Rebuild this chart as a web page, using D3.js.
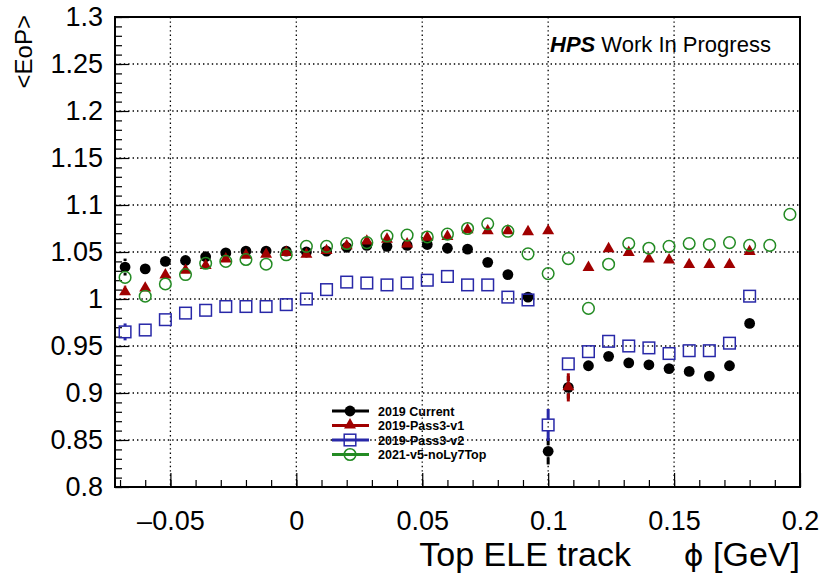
<!DOCTYPE html>
<html>
<head>
<meta charset="utf-8">
<script src="https://cdn.jsdelivr.net/npm/d3@7"></script>
<style>
  body { margin: 0; background: #fff; }
  svg { display: block; font-family: "Liberation Sans", Arial, Helvetica, sans-serif; }
</style>
</head>
<body>
<div id="chart"></div>
<script>
// bin centres in phi
var phiBins = [-0.068, -0.060, -0.052, -0.044, -0.036, -0.028, -0.020, -0.012, -0.004, 0.004,
               0.012, 0.020, 0.028, 0.036, 0.044, 0.052, 0.060, 0.068, 0.076, 0.084,
               0.092, 0.100, 0.108, 0.116, 0.124, 0.132, 0.140, 0.148, 0.156, 0.164,
               0.172, 0.180, 0.188, 0.196];

var seriesNames = ["2019 Current", "2019-Pass3-v1", "2019-Pass3-v2", "2021-v5-noLy7Top"];

var current2019 = [1.034, 1.032, 1.040, 1.041, 1.045, 1.049, 1.051, 1.051, 1.051, 1.050,
                   1.051, 1.055, 1.057, 1.056, 1.057, 1.058, 1.054, 1.053, 1.039, 1.026,
                   1.002, 0.838, 0.906, 0.929, 0.939, 0.932, 0.930, 0.926, 0.923, 0.918,
                   0.929, 0.974, null, null];
var current2019Err = [0.009, 0.003, 0.003, 0.003, 0.003, 0.003, 0.003, 0.003, 0.003, 0.003,
                      0.003, 0.003, 0.003, 0.003, 0.003, 0.003, 0.003, 0.003, 0.003, 0.003,
                      0.004, 0.014, 0.012, 0.003, 0.003, 0.003, 0.003, 0.003, 0.003, 0.003,
                      0.003, 0.003, null, null];

var pass3v1 = [1.007, 1.011, 1.025, 1.030, 1.035, 1.042, 1.046, 1.047, 1.049, 1.047,
               1.051, 1.056, 1.061, 1.063, 1.058, 1.065, 1.066, 1.073, 1.072, 1.072,
               1.071, 1.072, 0.906, 1.033, 1.053, 1.049, 1.042, 1.041, 1.036, 1.036,
               1.036, 1.050, null, null];
var pass3v1Err = [0.007, 0.004, 0.003, 0.003, 0.003, 0.003, 0.003, 0.003, 0.003, 0.003,
                  0.003, 0.003, 0.003, 0.003, 0.003, 0.003, 0.003, 0.003, 0.003, 0.003,
                  0.003, 0.003, 0.015, 0.003, 0.003, 0.003, 0.003, 0.003, 0.003, 0.003,
                  0.003, 0.003, null, null];

var pass3v2 = [0.965, 0.967, 0.978, 0.985, 0.988, 0.992, 0.992, 0.992, 0.994, 1.000,
               1.010, 1.018, 1.017, 1.015, 1.017, 1.020, 1.024, 1.015, 1.015, 1.002,
               0.999, 0.866, 0.931, 0.944, 0.955, 0.950, 0.948, 0.942, 0.945, 0.945,
               0.953, 1.003, null, null];
var pass3v2Err = [0.009, 0.003, 0.003, 0.003, 0.003, 0.003, 0.003, 0.003, 0.003, 0.003,
                  0.003, 0.003, 0.003, 0.003, 0.003, 0.003, 0.003, 0.003, 0.003, 0.003,
                  0.003, 0.017, 0.004, 0.003, 0.003, 0.003, 0.003, 0.003, 0.003, 0.003,
                  0.003, 0.003, null, null];

var noLy7Top2021 = [1.023, 1.003, 1.016, 1.026, 1.038, 1.040, 1.042, 1.037, 1.047, 1.056,
                    1.056, 1.059, 1.060, 1.067, 1.068, 1.066, 1.069, 1.075, 1.080, 1.072,
                    1.048, 1.027, 1.043, 0.990, 1.037, 1.059, 1.054, 1.056, 1.059, 1.058,
                    1.060, 1.057, 1.057, 1.090];
var noLy7Top2021Err = [0.006, 0.005, 0.003, 0.003, 0.003, 0.003, 0.003, 0.003, 0.003, 0.003,
                       0.003, 0.003, 0.003, 0.003, 0.003, 0.003, 0.003, 0.003, 0.003, 0.003,
                       0.003, 0.004, 0.003, 0.003, 0.003, 0.003, 0.003, 0.003, 0.003, 0.003,
                       0.003, 0.003, 0.003, 0.003];

var xTickValues = [-0.05, 0, 0.05, 0.1, 0.15, 0.2];
var xTickLabels = ["\u20130.05", "0", "0.05", "0.1", "0.15", "0.2"];
var yTickValues = [0.8, 0.85, 0.9, 0.95, 1, 1.05, 1.1, 1.15, 1.2, 1.25, 1.3];
var yTickLabels = ["0.8", "0.85", "0.9", "0.95", "1", "1.05", "1.1", "1.15", "1.2", "1.25", "1.3"];

// page and frame geometry
var width = 821, height = 575;
var frame = { left: 115, right: 800, top: 17, bottom: 487 };

var x = d3.scaleLinear().domain([-0.072, 0.2]).range([frame.left, frame.right]);
var y = d3.scaleLinear().domain([0.8, 1.3]).range([frame.bottom, frame.top]);

var svg = d3.select("#chart").append("svg")
    .attr("width", width)
    .attr("height", height);

// dotted grid at the major ticks
svg.append("g").selectAll("line")
    .data(xTickValues.filter(function(d) { return d < 0.2; }))
    .enter().append("line")
    .attr("x1", function(d) { return x(d); })
    .attr("x2", function(d) { return x(d); })
    .attr("y1", frame.top).attr("y2", frame.bottom)
    .attr("stroke", "#000").attr("stroke-width", 1.3)
    .attr("stroke-dasharray", "1.4,3");

svg.append("g").selectAll("line")
    .data(yTickValues.filter(function(d) { return d > 0.8 && d < 1.3; }))
    .enter().append("line")
    .attr("x1", frame.left).attr("x2", frame.right)
    .attr("y1", function(d) { return y(d); })
    .attr("y2", function(d) { return y(d); })
    .attr("stroke", "#000").attr("stroke-width", 1.3)
    .attr("stroke-dasharray", "1.4,3");

// axes : minor then major ticks, pointing inside the frame
var xMinor = d3.range(-0.07, 0.2001, 0.01);
var yMinor = d3.range(0.8, 1.3001, 0.01);

svg.append("g")
    .attr("transform", "translate(0," + frame.bottom + ")")
    .call(d3.axisBottom(x).tickValues(xMinor).tickSize(-7).tickFormat(""));

svg.append("g")
    .attr("class", "xaxis")
    .attr("transform", "translate(0," + frame.bottom + ")")
    .call(d3.axisBottom(x).tickValues(xTickValues).tickSize(-14).tickPadding(24)
        .tickFormat(function(d, i) { return xTickLabels[i]; }));

svg.append("g")
    .attr("transform", "translate(" + frame.left + ",0)")
    .call(d3.axisLeft(y).tickValues(yMinor).tickSize(-7).tickFormat(""));

svg.append("g")
    .attr("class", "yaxis")
    .attr("transform", "translate(" + frame.left + ",0)")
    .call(d3.axisLeft(y).tickValues(yTickValues).tickSize(-14).tickPadding(12)
        .tickFormat(function(d, i) { return yTickLabels[i]; }));

svg.selectAll(".domain").remove();
svg.selectAll(".tick line").attr("stroke", "#000").attr("stroke-width", 1.2);
svg.selectAll(".xaxis text, .yaxis text")
    .attr("fill", "#000")
    .style("font-size", "27px")
    .style("font-family", "'Liberation Sans', Arial, sans-serif");

// frame
svg.append("rect")
    .attr("x", frame.left).attr("y", frame.top)
    .attr("width", frame.right - frame.left)
    .attr("height", frame.bottom - frame.top)
    .attr("fill", "none").attr("stroke", "#000").attr("stroke-width", 2);

// series definitions (drawing order as in the original)
var series = [
    { name: seriesNames[0], values: current2019, errors: current2019Err, color: "#000000", shape: "circleFilled" },
    { name: seriesNames[1], values: pass3v1, errors: pass3v1Err, color: "#a00000", shape: "triangle" },
    { name: seriesNames[2], values: pass3v2, errors: pass3v2Err, color: "#2828a8", shape: "square" },
    { name: seriesNames[3], values: noLy7Top2021, errors: noLy7Top2021Err, color: "#238b23", shape: "circleOpen" }
];

var markerHalf = 6;

function drawMarker(g, s) {
    if (s.shape == "circleFilled") {
        g.append("circle").attr("r", 5.4).attr("fill", s.color);
    } else if (s.shape == "triangle") {
        g.append("path")
            .attr("d", d3.symbol().type(d3.symbolTriangle).size(62)())
            .attr("transform", "translate(0,-0.5)")
            .attr("fill", s.color);
    } else if (s.shape == "square") {
        g.append("rect").attr("x", -5.8).attr("y", -5.8)
            .attr("width", 11.6).attr("height", 11.6)
            .attr("fill", "none").attr("stroke", s.color).attr("stroke-width", 1.5);
    } else {
        g.append("circle").attr("r", 5.8)
            .attr("fill", "none").attr("stroke", s.color).attr("stroke-width", 1.5);
    }
}

series.forEach(function(s) {
    var pts = phiBins.map(function(p, i) { return { phi: p, v: s.values[i], e: s.errors[i] }; })
        .filter(function(d) { return d.v != null; });

    var g = svg.append("g");

    // error bars, broken around the marker
    pts.forEach(function(d) {
        var yTop = y(d.v + d.e), yBot = y(d.v - d.e), yc = y(d.v);
        if (yc - yTop > markerHalf) {
            g.append("line").attr("x1", x(d.phi)).attr("x2", x(d.phi))
                .attr("y1", yTop).attr("y2", yc - markerHalf)
                .attr("stroke", s.color).attr("stroke-width", 3);
            g.append("line").attr("x1", x(d.phi)).attr("x2", x(d.phi))
                .attr("y1", yc + markerHalf).attr("y2", yBot)
                .attr("stroke", s.color).attr("stroke-width", 3);
        }
    });

    g.selectAll(".pt")
        .data(pts)
        .enter().append("g")
        .attr("class", "pt")
        .attr("transform", function(d) { return "translate(" + x(d.phi) + "," + y(d.v) + ")"; })
        .each(function() { drawMarker(d3.select(this), s); });
});

// legend
var legend = svg.append("g");
var legendRows = [411, 425.5, 440, 454.5];
series.forEach(function(s, i) {
    var row = legend.append("g").attr("transform", "translate(0," + legendRows[i] + ")");
    row.append("line").attr("x1", 332).attr("x2", 369)
        .attr("stroke", s.color).attr("stroke-width", 3);
    var m = row.append("g").attr("transform", "translate(350,0)");
    drawMarker(m, s);
    row.append("text")
        .attr("x", 378).attr("y", 4.5)
        .style("font-size", "12.5px").style("font-weight", "bold")
        .text(s.name);
});

// labels
svg.append("text")
    .attr("x", 550).attr("y", 52)
    .style("font-size", "22px")
    .call(function(t) {
        t.append("tspan").style("font-weight", "bold").style("font-style", "italic").text("HPS");
        t.append("tspan").text(" Work In Progress");
    });

svg.append("text")
    .attr("transform", "translate(32,15) rotate(-90)")
    .attr("text-anchor", "end")
    .style("font-size", "24px")
    .text("<EoP>");

svg.append("text")
    .attr("x", 631).attr("y", 566)
    .attr("text-anchor", "end")
    .style("font-size", "34px")
    .text("Top ELE track");

svg.append("text")
    .attr("x", 800).attr("y", 566)
    .attr("text-anchor", "end")
    .style("font-size", "34px")
    .call(function(t) {
        t.append("tspan").style("font-family", "'DejaVu Sans', sans-serif").style("font-size", "30px").text("\u03D5");
        t.append("tspan").text(" [GeV]");
    });
</script>
</body>
</html>
